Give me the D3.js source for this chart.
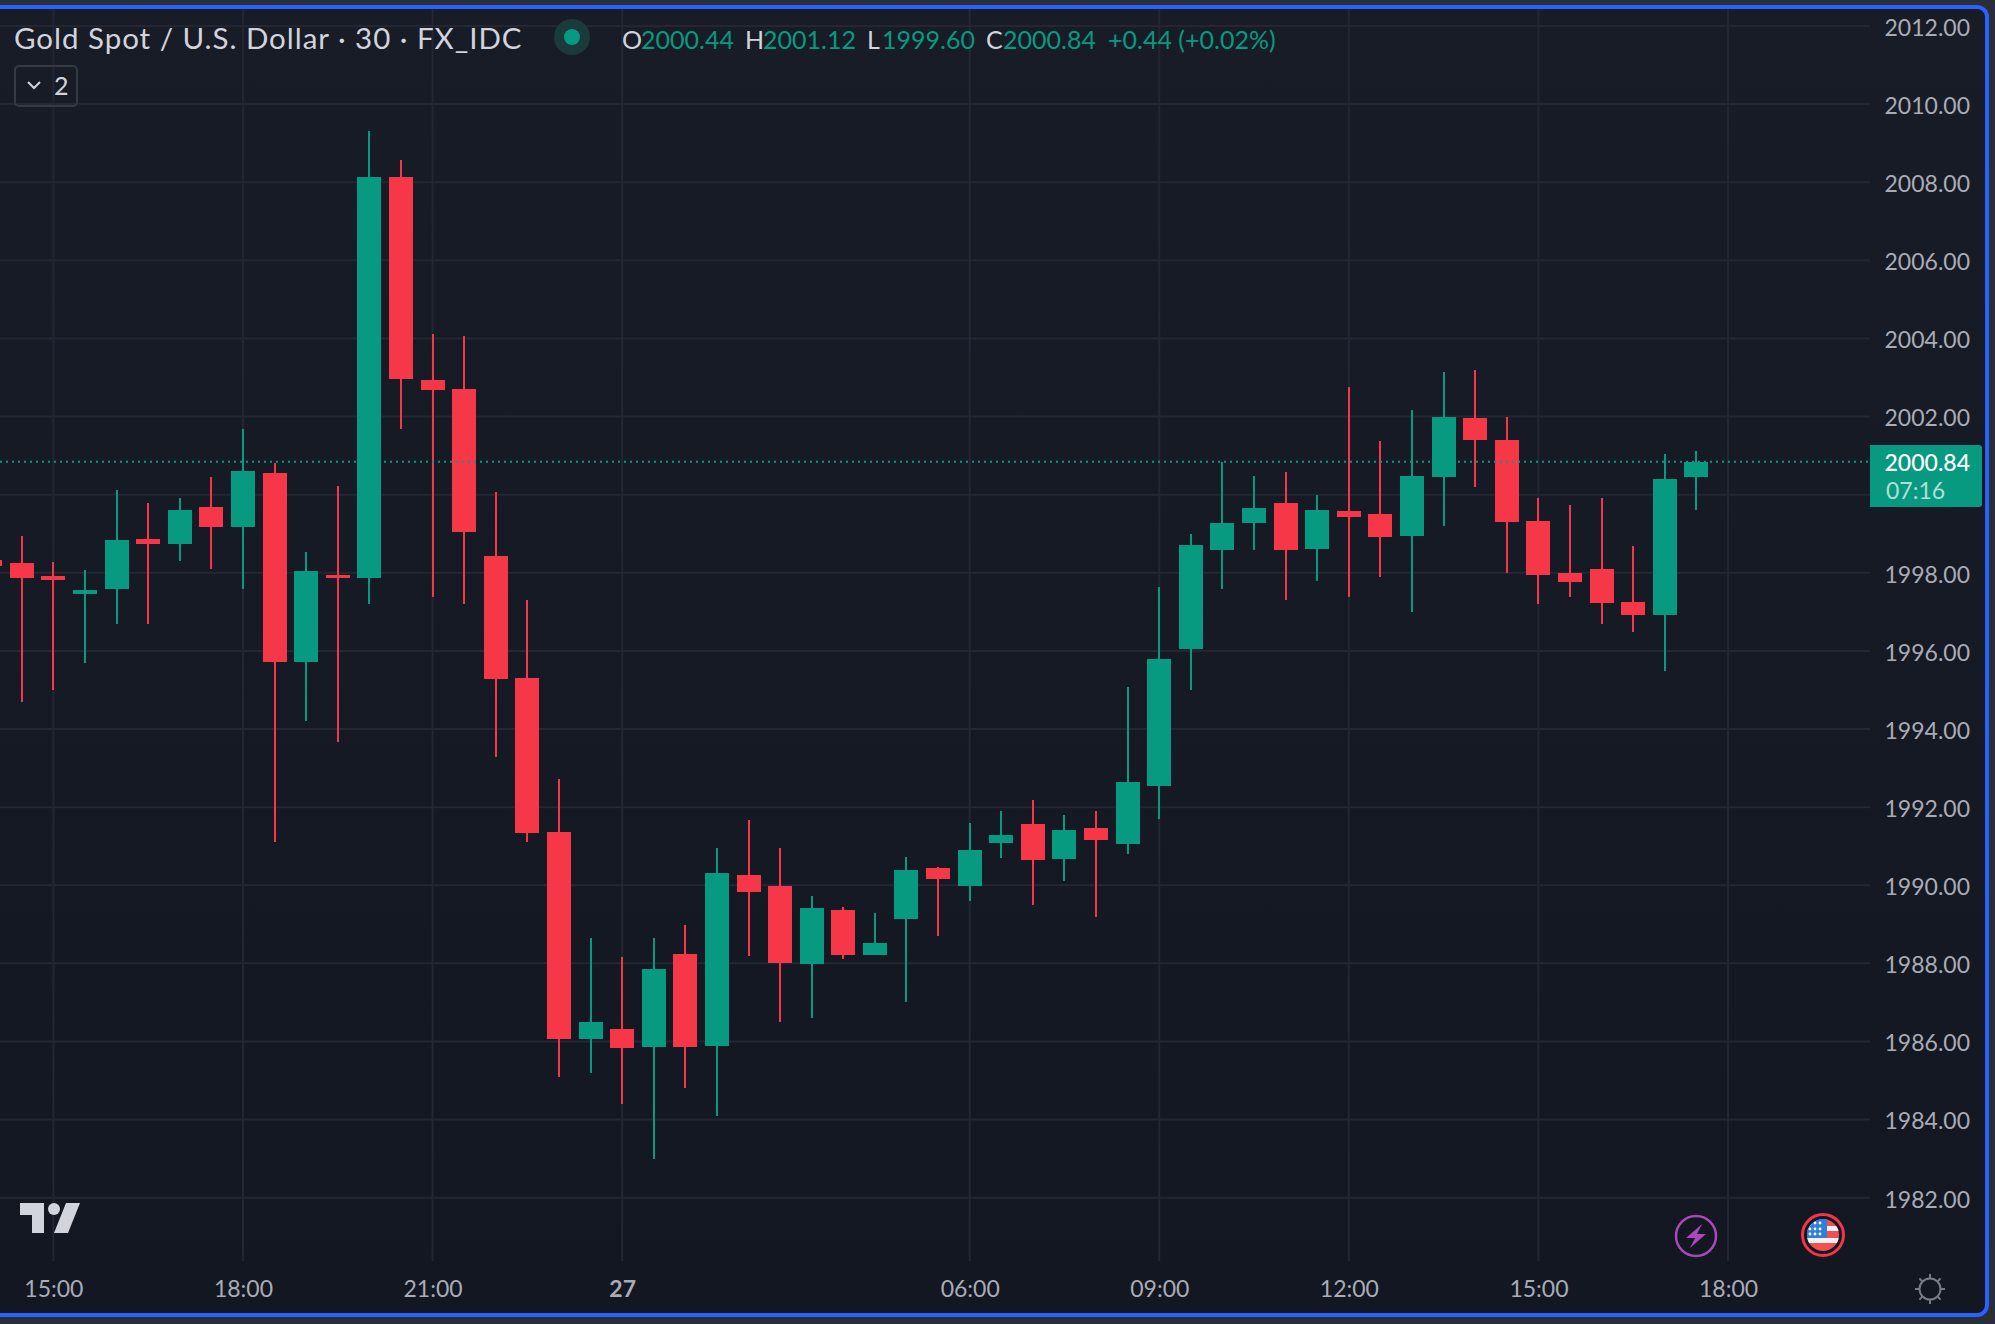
<!DOCTYPE html>
<html>
<head>
<meta charset="utf-8">
<script src="https://cdn.jsdelivr.net/npm/d3@7"></script>
<style>
  html, body { margin: 0; padding: 0; background: #2a2e39; overflow: hidden; }
  svg { display: block; }
  text { font-family: Lato, "Open Sans", sans-serif; }
  .domain { display: none; }
</style>
</head>
<body>
<div id="chart"></div>
<script>
// 30 min bars, first one is cut off by the left edge
const firstBar = -1;
const opens = [1998.33,1998.25,1997.92,1997.46,1997.58,1998.87,1998.74,1999.69,1999.17,2000.56,1995.72,1997.95,1997.86,2008.14,2002.93,2002.71,1998.42,1995.31,1991.36,1986.06,1986.32,1985.86,1988.24,1985.89,1990.26,1989.98,1987.99,1989.37,1988.22,1989.14,1990.44,1989.98,1991.08,1991.57,1990.67,1991.47,1991.06,1992.54,1996.05,1998.59,1999.28,1999.79,1998.61,1999.58,1999.51,1998.94,2000.45,2001.96,2001.40,1999.33,1998.00,1998.10,1997.25,1996.92,2000.44];
const highs = [1998.40,1998.94,1998.28,1998.07,2000.11,1999.78,1999.92,2000.46,2001.68,2000.81,1998.54,2000.23,2009.31,2008.56,2004.12,2004.06,2000.07,1997.30,1992.72,1988.65,1988.16,1988.65,1988.98,1990.96,1991.67,1990.96,1989.73,1989.44,1989.29,1990.72,1990.47,1991.60,1991.90,1992.19,1991.80,1991.90,1995.08,1997.64,1998.99,2000.84,2000.48,2000.58,1999.99,2002.76,2001.38,2002.17,2003.14,2003.19,2001.99,1999.92,1999.74,1999.92,1998.69,2001.04,2001.12];
const lows = [1998.10,1994.69,1995.00,1995.69,1996.69,1996.69,1998.30,1998.09,1997.58,1991.11,1994.21,1993.67,1997.20,2001.68,1997.38,1997.20,1993.28,1991.11,1985.09,1985.19,1984.40,1982.99,1984.81,1984.09,1988.19,1986.50,1986.60,1988.11,1988.22,1987.01,1988.70,1989.60,1990.70,1989.50,1990.11,1989.19,1990.80,1991.70,1995.00,1997.59,1998.59,1997.31,1997.79,1997.38,1997.89,1997.00,1999.20,2000.20,1998.00,1997.20,1997.38,1996.69,1996.49,1995.49,1999.60];
const closes = [1998.18,1997.86,1997.81,1997.56,1998.84,1998.74,1999.61,1999.17,2000.60,1995.72,1998.05,1997.86,2008.14,2002.97,2002.69,1999.05,1995.28,1991.34,1986.06,1986.50,1985.83,1987.86,1985.86,1990.32,1989.83,1988.01,1989.42,1988.22,1988.52,1990.39,1990.16,1990.90,1991.29,1990.65,1991.42,1991.16,1992.65,1995.79,1998.71,1999.28,1999.66,1998.59,1999.61,1999.43,1998.92,2000.48,2001.99,2001.40,1999.30,1997.94,1997.77,1997.23,1996.92,2000.40,2000.84];

const priceTicks = [2012,2010,2008,2006,2004,2002,2000,1998,1996,1994,1992,1990,1988,1986,1984,1982];
const timeTicks = [1,7,13,19,30,36,42,48,54];
const timeLabels = ["15:00","18:00","21:00","27","06:00","09:00","12:00","15:00","18:00"];
const lastPrice = 2000.84;
const countdown = "07:16";

const legendTitle = "Gold Spot / U.S. Dollar · 30 · FX_IDC";
const legendNames = ["O","H","L","C"];
const legendValues = ["2000.44","2001.12","1999.60","2000.84"];
const legendChange = "+0.44 (+0.02%)";

const W = 1995, H = 1324;
const plotRight = 1870, plotBottom = 1261;
const up = "#089981", down = "#f53748", gridCol = "#242733", axisText = "#a9acb6";

const bars = opens.map((o, k) => ({ i: firstBar + k, o: o, h: highs[k], l: lows[k], c: closes[k] }));

const svg = d3.select("#chart").append("svg").attr("width", W).attr("height", H);

const grad = svg.append("defs").append("linearGradient")
  .attr("id", "bg").attr("x1", 0).attr("x2", 0).attr("y1", 0).attr("y2", 1);
grad.append("stop").attr("offset", "0%").attr("stop-color", "#181c27");
grad.append("stop").attr("offset", "100%").attr("stop-color", "#131722");

// pane + blue focus frame
svg.append("rect").attr("x", -10).attr("y", 7).attr("width", 1997).attr("height", 1308)
  .attr("rx", 10).attr("fill", "url(#bg)").attr("stroke", "#2962ff").attr("stroke-width", 4);

const x = d3.scaleLinear().domain([0, 54]).range([21.8, 1728]);
const y = d3.scaleLinear().domain([1982, 2012]).range([1197.7, 26]);
const px = d => Math.round(x(d));

// grid comes from the axes, tick lines stretched over the pane
const yGrid = d3.axisRight(y).tickValues(priceTicks).tickSize(-plotRight).tickFormat("").offset(0);
svg.append("g").attr("transform", "translate(" + plotRight + ",0)").call(yGrid)
  .selectAll("line").attr("stroke", gridCol).attr("stroke-width", 2);

const xGrid = d3.axisBottom(x).tickValues(timeTicks).tickSize(-(plotBottom - 9)).tickFormat("").offset(0);
svg.append("g").attr("transform", "translate(0," + plotBottom + ")").call(xGrid)
  .selectAll("line").attr("stroke", gridCol).attr("stroke-width", 2);

// candles
const candles = svg.append("g").selectAll("g").data(bars).join("g")
  .attr("fill", d => d.c >= d.o ? up : down);
candles.append("rect")
  .attr("x", d => px(d.i) - 1).attr("width", 2)
  .attr("y", d => Math.round(y(d.h)))
  .attr("height", d => Math.round(y(d.l)) - Math.round(y(d.h)));
candles.append("rect")
  .attr("x", d => px(d.i) - 12).attr("width", 24)
  .attr("y", d => Math.round(y(Math.max(d.o, d.c))))
  .attr("height", d => Math.max(2, Math.round(y(Math.min(d.o, d.c))) - Math.round(y(Math.max(d.o, d.c)))));

// last price line
svg.append("line").attr("x1", 0).attr("x2", plotRight)
  .attr("y1", y(lastPrice)).attr("y2", y(lastPrice))
  .attr("stroke", up).attr("stroke-width", 2).attr("stroke-dasharray", "2,4");

// price scale, the 2000 label sits under the badge so it is left out
const yAxis = d3.axisRight(y).tickValues(priceTicks.filter(p => p !== 2000)).tickSize(0).tickFormat(d3.format(".2f"));
const yLabels = svg.append("g").attr("transform", "translate(1970,2)").call(yAxis);
yLabels.selectAll("text").attr("x", 0).attr("text-anchor", "end")
  .attr("fill", axisText).attr("font-size", 23);

// time scale
const xAxis = d3.axisBottom(x).tickValues(timeTicks).tickSize(0)
  .tickFormat(d => timeLabels[timeTicks.indexOf(d)]);
const xLabels = svg.append("g").attr("transform", "translate(0,1281)").call(xAxis);
xLabels.selectAll("text").attr("y", 0).attr("dy", "0.71em")
  .attr("fill", axisText).attr("font-size", 23)
  .attr("font-weight", d => d === 19 ? "bold" : "normal");

// last price badge
svg.append("path").attr("fill", up)
  .attr("d", "M1870,445H1979a3,3 0 0 1 3,3V504a3,3 0 0 1 -3,3H1870Z");
svg.append("text").attr("x", 1970).attr("y", 471).attr("text-anchor", "end")
  .attr("font-size", 23).attr("font-weight", 500).attr("fill", "#ffffff").text(d3.format(".2f")(lastPrice));
svg.append("text").attr("x", 1886).attr("y", 499)
  .attr("font-size", 23).attr("fill", "#ffffff").attr("fill-opacity", 0.7).text(countdown);

// legend
svg.append("text").attr("x", 14).attr("y", 49).attr("font-size", 29.5)
  .attr("letter-spacing", 0.97).attr("fill", "#d1d4dc").text(legendTitle);
svg.append("circle").attr("cx", 572).attr("cy", 37).attr("r", 18).attr("fill", "#1b3a3c");
svg.append("circle").attr("cx", 572).attr("cy", 37).attr("r", 8).attr("fill", up);

const nameX = [622, 745, 867, 986], valueX = [641, 763, 882, 1003];
legendNames.forEach((n, k) => {
  svg.append("text").attr("x", nameX[k]).attr("y", 49).attr("font-size", 25).attr("fill", "#d1d4dc").text(n);
  svg.append("text").attr("x", valueX[k]).attr("y", 49).attr("font-size", 25).attr("fill", up).text(legendValues[k]);
});
svg.append("text").attr("x", 1108).attr("y", 49).attr("font-size", 25).attr("fill", up).text(legendChange);

// collapsed indicators button
svg.append("rect").attr("x", 15).attr("y", 66).attr("width", 62).attr("height", 40).attr("rx", 4)
  .attr("fill", "none").attr("stroke", "#363a45").attr("stroke-width", 2);
svg.append("path").attr("d", "M28,82l6,6l6,-6").attr("fill", "none").attr("stroke", "#d1d4dc").attr("stroke-width", 2);
svg.append("text").attr("x", 54).attr("y", 95).attr("font-size", 25).attr("fill", "#d1d4dc").text("2");

// tv logo
const logo = svg.append("g").attr("fill", "#d1d4dc");
logo.append("path").attr("d", "M20,1203H44V1233H32V1215H20Z");
logo.append("circle").attr("cx", 54).attr("cy", 1209).attr("r", 6);
logo.append("path").attr("d", "M66,1203H80L68,1233H54Z");

// bolt badge
svg.append("circle").attr("cx", 1696).attr("cy", 1236).attr("r", 20)
  .attr("fill", "none").attr("stroke", "#ab47bc").attr("stroke-width", 2.5);
svg.append("path").attr("fill", "#ab47bc")
  .attr("d", "M1702,1224L1686,1238H1695L1690,1248L1706,1234H1697Z");

// us flag badge
const flag = svg.append("g");
flag.append("circle").attr("cx", 1823).attr("cy", 1235).attr("r", 20.5)
  .attr("fill", "#131722").attr("stroke", "#f23645").attr("stroke-width", 3);
flag.append("clipPath").attr("id", "flagClip").append("circle")
  .attr("cx", 1823).attr("cy", 1235).attr("r", 16);
const flagInner = flag.append("g").attr("clip-path", "url(#flagClip)");
flagInner.append("rect").attr("x", 1807).attr("y", 1219).attr("width", 32).attr("height", 32).attr("fill", "#f05150");
[1226, 1238].forEach(s => flagInner.append("rect").attr("x", 1807).attr("y", s)
  .attr("width", 32).attr("height", 5).attr("fill", "#f2f2f2"));
flagInner.append("rect").attr("x", 1807).attr("y", 1219).attr("width", 20).attr("height", 19).attr("fill", "#2f7fdc");
[[1810,1224],[1815,1223],[1820,1223],[1810,1229],[1815,1229],[1820,1229],[1810,1234],[1815,1234],[1820,1234]].forEach(p =>
  flagInner.append("circle").attr("cx", p[0]).attr("cy", p[1]).attr("r", 1.4).attr("fill", "#ffffff"));

// sun icon
const sun = svg.append("g").attr("transform", "translate(1930,1289)")
  .attr("stroke", "#787b86").attr("stroke-width", 2).attr("fill", "none");
sun.append("circle").attr("r", 10.5);
d3.range(8).forEach(k => sun.append("line").attr("y1", -11).attr("y2", -15)
  .attr("transform", "rotate(" + k * 45 + ")"));
</script>
</body>
</html>
